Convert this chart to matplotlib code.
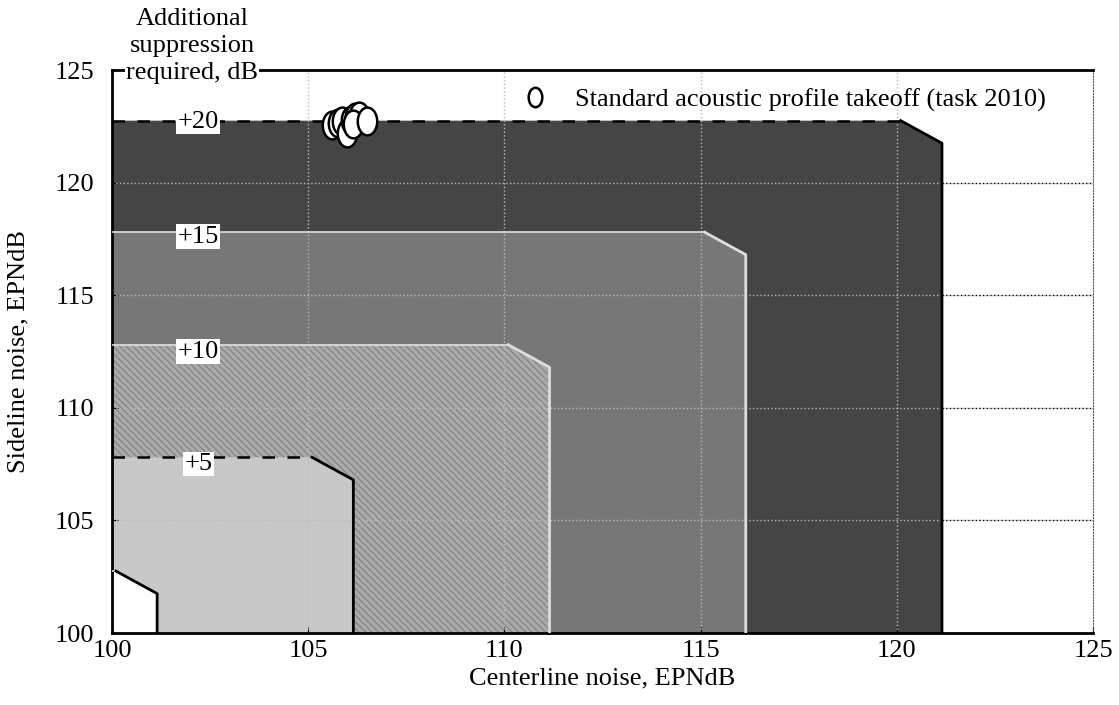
import numpy as np
import matplotlib.pyplot as plt
from matplotlib.path import Path
from matplotlib.transforms import Affine2D
from matplotlib.patches import Polygon

plt.rcParams['font.family'] = ['Liberation Serif', 'DejaVu Serif']
plt.rcParams['hatch.linewidth'] = 0.8

# suppression contours: top (sideline) and right (centerline) edge of each zone
levels = ['+20', '+15', '+10', '+5', '0']
top_edge = [122.75, 117.8, 112.8, 107.8, 102.75]
right_edge = [121.15, 116.15, 111.15, 106.15, 101.15]
zone_grays = ['#454545', '#777777', '#ababab', '#c8c8c8', 'white']
zone_hatch = [None, None, '\\\\\\\\\\', None, None]
dashed_top = [True, False, False, True, False]
label_y = [122.7, 117.6, 112.5, 107.5]

# standard acoustic profile takeoff points
pts_x = [105.6, 105.75, 105.85, 106.0, 106.1, 106.2, 106.3, 106.15, 106.5]
pts_y = [122.55, 122.65, 122.75, 122.2, 122.8, 122.9, 122.95, 122.6, 122.75]

fig = plt.figure(figsize=(11.19, 7.05), dpi=100)
ax = fig.add_axes([0.1001, 0.1021, 0.8767, 0.7986])
ax.set_xlim(100, 125)
ax.set_ylim(100, 125)

for i, lev in enumerate(levels):
    t = top_edge[i]
    r = right_edge[i]
    corner_x = max(r - 1.05, 100)
    poly = [(100, 100), (100, t), (corner_x, t), (r, t - 1.0), (r, 100)]
    ax.add_patch(Polygon(poly, closed=True, facecolor=zone_grays[i], edgecolor='#808080',
                         lw=0, hatch=zone_hatch[i], zorder=1))
    # outline
    if dashed_top[i]:
        ax.plot([100, corner_x], [t, t], color='black', lw=1.8, ls=(0, (5, 5)), zorder=3)
    else:
        ax.plot([100, corner_x], [t, t], color='#e0e0e0', lw=1.2, zorder=3)
    edge_col = 'black' if i in (0, 3, 4) else '#dddddd'
    ax.plot([corner_x, r, r], [t, t - 1.0, 100], color=edge_col, lw=2, zorder=3)

for x in [105, 110, 115, 120]:
    ax.axvline(x, color='#bbbbbb', lw=1, ls=':', zorder=2)
for y in [105, 110, 115, 120]:
    ax.axhline(y, color='#bbbbbb', lw=1, ls=':', zorder=2)
# black dotted grid in the white area
for y in [105, 110, 115, 120]:
    ax.plot([right_edge[0], 125], [y, y], color='black', lw=1, ls=':', zorder=2)

for lev, yy in zip(levels[:4], label_y):
    ax.text(102.2, yy, lev, fontsize=19, ha='center', va='center', zorder=5,
            bbox=dict(facecolor='white', edgecolor='none', pad=1.0))

ellipse = Path.unit_circle().transformed(Affine2D().scale(0.7, 1.0))
ax.plot(pts_x, pts_y, ls='none', marker=ellipse, markersize=20, markerfacecolor='white',
        markeredgecolor='black', markeredgewidth=1.8, zorder=6,
        label='Standard acoustic profile takeoff (task 2010)')

leg = ax.legend(loc='upper left', bbox_to_anchor=(0.38, 1.01), frameon=False, fontsize=19,
                handletextpad=0.5, markerscale=0.7)

ax.set_xticks([100, 105, 110, 115, 120, 125])
ax.set_yticks([100, 105, 110, 115, 120, 125])
ax.tick_params(direction='in', length=4, labelsize=19)
ax.tick_params(axis='y', pad=13)
ax.tick_params(axis='x', pad=5)
ax.set_xlabel('Centerline noise, EPNdB', fontsize=19, labelpad=4)
ax.set_ylabel('Sideline noise, EPNdB', fontsize=19, labelpad=18)

for s in ['top', 'left', 'bottom']:
    ax.spines[s].set_linewidth(2)
ax.spines['right'].set_linestyle(':')
ax.spines['right'].set_color('#555555')

fig.text(0.1716, 0.935, 'Additional\nsuppression\nrequired, dB', fontsize=19, ha='center', va='center',
         linespacing=1.3, bbox=dict(facecolor='white', edgecolor='none', pad=1), zorder=10)

fig.savefig('out.png', dpi=100)
